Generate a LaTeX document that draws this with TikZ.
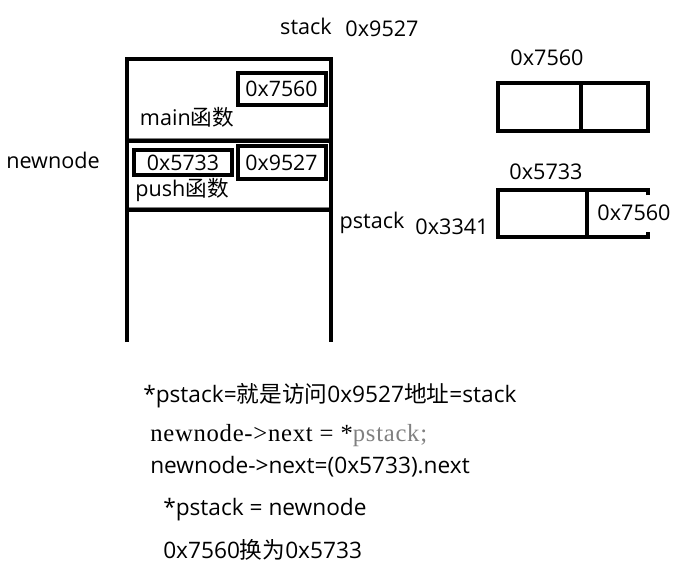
\documentclass[tikz,border=0pt]{standalone}
\usepackage{fontspec}
\setmainfont{Open Sans}
\newfontfamily\cjk{Noto Sans CJK SC}
\newfontfamily\codefont[LetterSpace=3]{Liberation Serif}
\usetikzlibrary{positioning}

\begin{document}
\begin{tikzpicture}[x=0.75pt, y=-0.75pt,
    lbl/.style={inner sep=0pt, font=\fontsize{16.2}{19}\selectfont},
    cell/.style={draw, line width=3pt, inner sep=0pt, font=\fontsize{16}{19}\selectfont},
    frame/.style={line width=3pt},
    note/.style={inner sep=0pt, anchor=west, font=\fontsize{17}{20}\selectfont}
]
    \useasboundingbox (0,0) rectangle (691,567);

    % Stack frame
    \node[lbl] (stacklbl) at (306,26) {stack};
    \node[lbl] (stackaddr) at (382,29) {0x9527};
    \draw[frame] (127,342) -- (127,59) -- (331,59) -- (331,342);
    \draw[gray, line width=0.75pt] (129,138) -- (329,138);
    \draw[frame] (127,141) -- (331,141);
    \draw[gray, line width=0.75pt] (129,207) -- (329,207);
    \draw[frame] (127,210) -- (331,210);

    % main frame
    \node[cell, minimum width=66pt, minimum height=24pt] (mainptr) at (281.5,88.5) {0x7560};
    \node[lbl] (mainlbl) at (187,117) {main{\cjk 函数}};

    % push frame
    \node[lbl] (newnode) at (53,160) {newnode};
    \node[cell, minimum width=74pt, minimum height=19pt] (newptr) at (183,162.5) {0x5733};
    \node[cell, minimum width=66pt, minimum height=25pt] (pstackptr) at (281.5,162.5) {0x9527};
    \node[lbl] (pushlbl) at (182,190) {push{\cjk 函数}};
    \node[lbl] (pstack) at (372,223) {pstack};
    \node[lbl] (pstackaddr) at (452,227) {0x3341};

    % Old head node
    \node[lbl] (oldaddr) at (547,58) {0x7560};
    \draw[frame] (498,83) rectangle (648,131);
    \draw[frame] (581,83) -- (581,131);

    % New node
    \node[lbl] (newaddr) at (546,172) {0x5733};
    \draw[frame] (648,195) -- (648,190) -- (498,190) -- (498,237) -- (648,237) -- (648,232);
    \draw[frame] (587,190) -- (587,237);
    \node[lbl] (nextval) at (634,213) {0x7560};

    % Notes
    \node[note] (note1) at (143,396) {*pstack={\cjk 就是访问}0x9527{\cjk 地址}=stack};
    \node[note, font=\codefont\fontsize{18.5}{21}\selectfont] (note2) at (150,436) {newnode->next = *\textcolor{gray}{pstack;}};
    \node[note] (note3) at (150,467) {newnode->next=(0x5733).next};
    \node[note] (note4) at (163,510) {*pstack = newnode};
    \node[note] (note5) at (163,550) {0x7560{\cjk 换为}0x5733};
\end{tikzpicture}
\end{document}
